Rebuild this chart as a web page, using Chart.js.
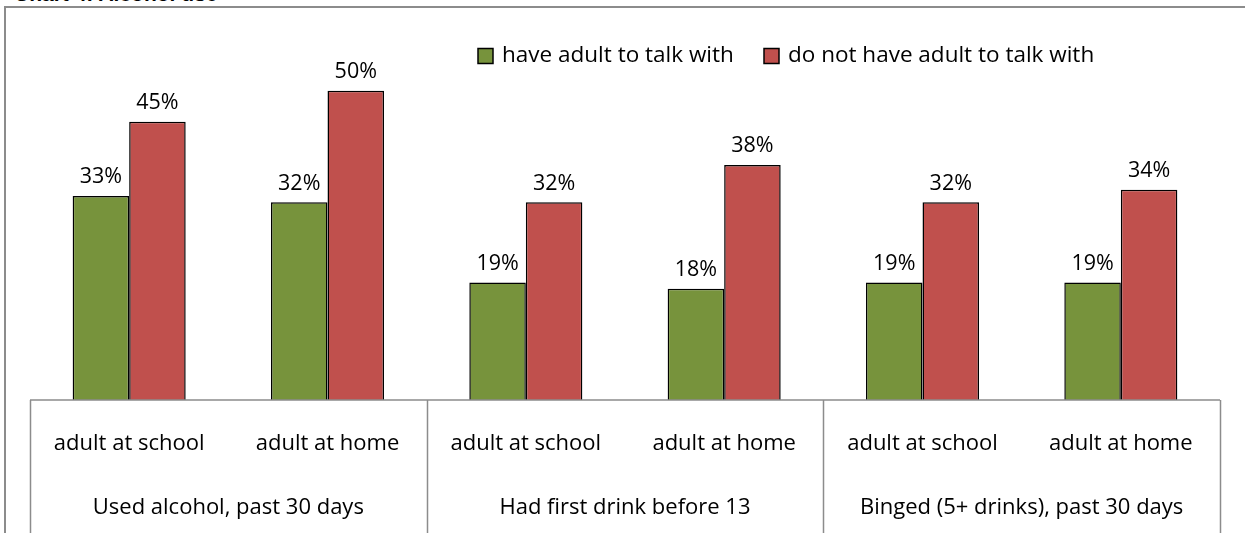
<!DOCTYPE html>
<html>
<head>
<meta charset="utf-8">
<script src="https://cdn.jsdelivr.net/npm/chart.js@4.4.0/dist/chart.umd.min.js"></script>
<style>
  body { margin: 0; background: #fff; overflow: hidden; }
  #wrap { position: relative; width: 1245px; height: 533px; }
  #title { position: absolute; left: 14px; top: -18px; font: bold 21px "Liberation Sans", Arial, sans-serif; color: #000; }
  #frame { position: absolute; left: 4px; top: 6px; width: 1245px; height: 540px; border-top: 2px solid #8c8c8c; border-left: 2px solid #8c8c8c; }
  canvas { position: absolute; left: 0; top: 0; }
</style>
</head>
<body>
<div id="wrap">
  <div id="title">Chart 4: Alcohol use</div>
  <div id="frame"></div>
  <canvas id="plot-alcohol" width="1245" height="533"></canvas>
</div>
<script>
// data
const subLabels = ['adult at school', 'adult at home', 'adult at school', 'adult at home', 'adult at school', 'adult at home'];
const groupLabels = ['Used alcohol, past 30 days', 'Had first drink before 13', 'Binged (5+ drinks), past 30 days'];
const haveAdult = [33, 32, 19, 18, 19, 19];
const noAdult = [45, 50, 32, 38, 32, 34];
const seriesNames = ['have adult to talk with', 'do not have adult to talk with'];

const FONT = '"Open Sans", sans-serif';

// value labels above each bar
const valueLabels = {
    id: 'valueLabels',
    afterDatasetsDraw(chart) {
        const ctx = chart.ctx;
        ctx.save();
        ctx.font = '21.5px ' + FONT;
        ctx.fillStyle = '#000';
        ctx.textAlign = 'center';
        ctx.textBaseline = 'bottom';
        chart.data.datasets.forEach((ds, i) => {
            chart.getDatasetMeta(i).data.forEach((bar, j) => {
                ctx.fillText(ds.data[j] + '%', bar.x, bar.y - 8);
            });
        });
        ctx.restore();
    }
};

// two level category box under the bars
const categoryBox = {
    id: 'categoryBox',
    afterDraw(chart) {
        const ctx = chart.ctx;
        const area = chart.chartArea;
        const xs = chart.scales.x;
        const half = (xs.getPixelForValue(1) - xs.getPixelForValue(0)) / 2;
        ctx.save();
        ctx.strokeStyle = '#8c8c8c';
        ctx.lineWidth = 1.5;
        ctx.beginPath();
        ctx.moveTo(area.left, area.bottom);
        ctx.lineTo(area.right, area.bottom);
        for (let g = 0; g <= groupLabels.length; g++) {
            let x = g < groupLabels.length ? xs.getPixelForValue(g * 2) - half : xs.getPixelForValue(g * 2 - 1) + half;
            x = Math.round(x) + 0.5;
            ctx.moveTo(x, area.bottom);
            ctx.lineTo(x, chart.height);
        }
        ctx.stroke();

        ctx.fillStyle = '#000';
        ctx.font = '22px ' + FONT;
        ctx.textAlign = 'center';
        ctx.textBaseline = 'middle';
        subLabels.forEach((lab, i) => {
            ctx.fillText(lab, xs.getPixelForValue(i), area.bottom + 44);
        });
        groupLabels.forEach((lab, g) => {
            const x = (xs.getPixelForValue(g * 2) + xs.getPixelForValue(g * 2 + 1)) / 2;
            ctx.fillText(lab, x, area.bottom + 108);
        });
        ctx.restore();
    }
};

// legend inside the plot, top right
const boxLegend = {
    id: 'boxLegend',
    afterDraw(chart) {
        const ctx = chart.ctx;
        const starts = [478, 764];
        const y = 56;
        ctx.save();
        ctx.font = '22.5px ' + FONT;
        ctx.textBaseline = 'middle';
        chart.data.datasets.forEach((ds, i) => {
            const x = starts[i];
            ctx.fillStyle = ds.backgroundColor;
            ctx.fillRect(x, y - 7.5, 15, 15);
            ctx.strokeStyle = '#000';
            ctx.lineWidth = 1.5;
            ctx.strokeRect(x, y - 7.5, 15, 15);
            ctx.fillStyle = '#000';
            ctx.fillText(ds.label, x + 24, y);
        });
        ctx.restore();
    }
};

const ctx = document.getElementById('plot-alcohol').getContext('2d');
const chart = new Chart(ctx, {
    type: 'bar',
    data: {
        labels: subLabels,
        datasets: [{
            label: seriesNames[0],
            data: haveAdult,
            backgroundColor: '#77933C',
            borderColor: '#000',
            borderWidth: 1.5,
            borderSkipped: 'bottom'
        }, {
            label: seriesNames[1],
            data: noAdult,
            backgroundColor: '#C0504D',
            borderColor: '#000',
            borderWidth: 1.5,
            borderSkipped: 'bottom'
        }]
    },
    options: {
        responsive: false,
        animation: false,
        categoryPercentage: 0.57,
        barPercentage: 1,
        layout: {
            padding: { left: 30, right: 25, top: 29, bottom: 125 }
        },
        plugins: {
            legend: false,
            tooltip: { enabled: false }
        },
        scales: {
            x: {
                ticks: { display: false },
                grid: { display: false },
                border: { display: false }
            },
            y: {
                display: false,
                min: 0,
                max: 60
            }
        }
    },
    plugins: [valueLabels, categoryBox, boxLegend]
});
</script>
</body>
</html>
